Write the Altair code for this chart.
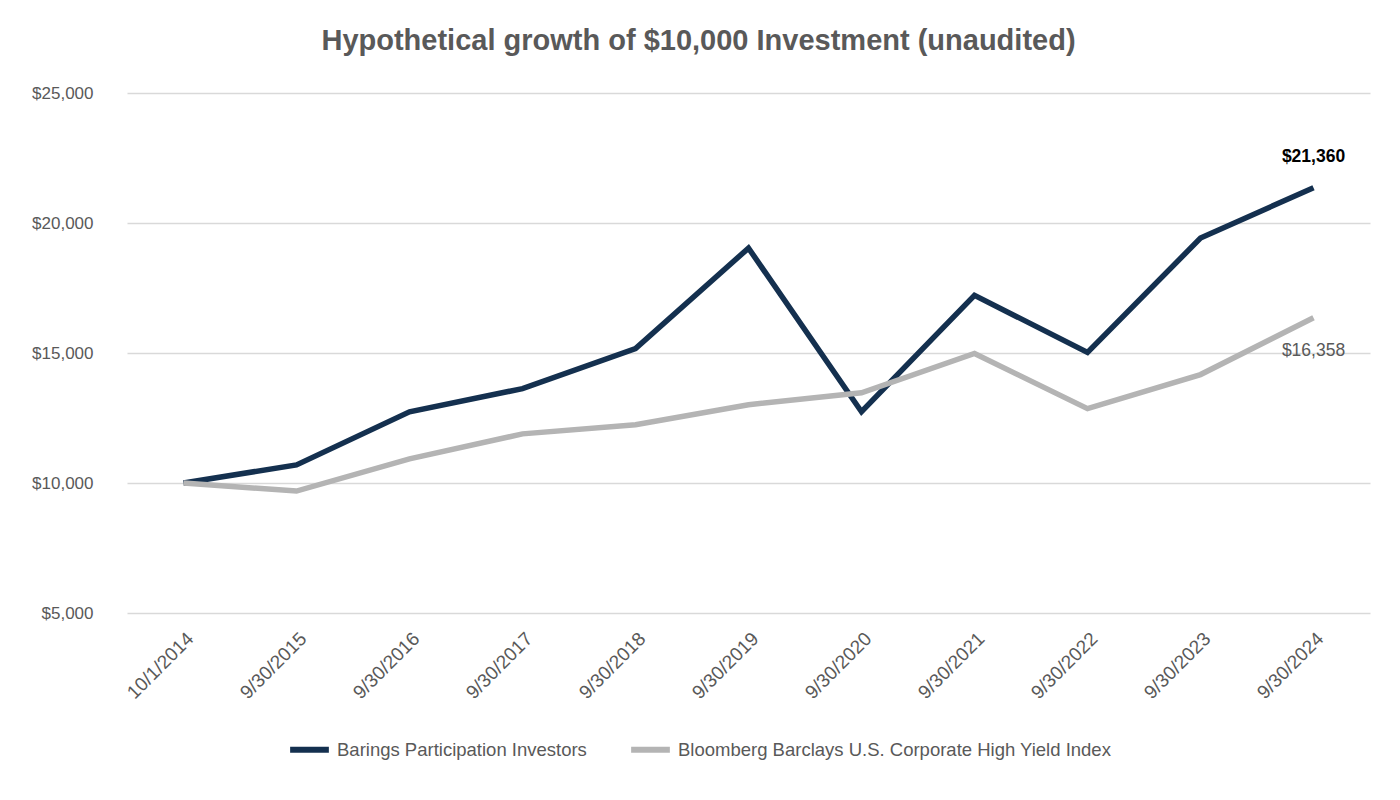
import altair as alt
import pandas as pd

dates = ["10/1/2014", "9/30/2015", "9/30/2016", "9/30/2017", "9/30/2018", "9/30/2019",
         "9/30/2020", "9/30/2021", "9/30/2022", "9/30/2023", "9/30/2024"]
series_names = ["Barings Participation Investors",
                "Bloomberg Barclays U.S. Corporate High Yield Index"]
barings = [10000, 10695, 12740, 13630, 15170, 19035, 12740, 17220, 15020, 19420, 21360]
bloomberg = [10000, 9690, 10930, 11890, 12240, 13010, 13470, 14980, 12860, 14170, 16358]
y_ticks = [5000, 10000, 15000, 20000, 25000]

rows = []
for d, a, b in zip(dates, barings, bloomberg):
    rows.append({"date": d, "series": series_names[0], "value": a})
    rows.append({"date": d, "series": series_names[1], "value": b})
df = pd.DataFrame(rows)

FONT = "Liberation Sans"
GREY_TXT = "#595959"
colors = ["#14304f", "#b4b4b4"]

x_enc = alt.X("date:N", sort=dates, title=None,
              scale=alt.Scale(type="point", padding=0.5),
              axis=alt.Axis(labelAngle=-45, labelFontSize=19, labelColor=GREY_TXT,
                            labelFont=FONT, ticks=False, domain=False, grid=False,
                            labelPadding=16))
y_enc = alt.Y("value:Q", title=None,
              scale=alt.Scale(domain=[5000, 25000], nice=False, zero=False),
              axis=alt.Axis(values=y_ticks, format="$,.0f", labelFontSize=17,
                            labelColor=GREY_TXT, labelFont=FONT, ticks=False,
                            domain=False, gridColor="#d9d9d9", gridWidth=1.5,
                            labelPadding=34))

base = alt.Chart(df)

lines = base.mark_line(strokeWidth=5.5, strokeJoin="miter").encode(
    x=x_enc, y=y_enc,
    color=alt.Color("series:N", sort=series_names, title=None,
                    scale=alt.Scale(domain=series_names, range=colors),
                    legend=alt.Legend(orient="none", legendX=160, legendY=634,
                                      direction="horizontal", symbolType="stroke",
                                      symbolSize=1500, symbolStrokeWidth=6,
                                      labelFontSize=18.5, labelColor=GREY_TXT,
                                      labelFont=FONT, labelLimit=700,
                                      columnPadding=32, labelOffset=5, padding=0)),
)

last = dates[-1]
lab1 = base.transform_filter(
    (alt.datum.date == last) & (alt.datum.series == series_names[0])
).mark_text(fontSize=17.5, fontWeight="bold", color="#000000", font=FONT, dy=-31).encode(
    x=alt.X("date:N", sort=dates), y="value:Q",
    text=alt.Text("value:Q", format="$,.0f"))

lab2 = base.transform_filter(
    (alt.datum.date == last) & (alt.datum.series == series_names[1])
).mark_text(fontSize=17.5, color=GREY_TXT, font=FONT, dy=33).encode(
    x=alt.X("date:N", sort=dates), y="value:Q",
    text=alt.Text("value:Q", format="$,.0f"))

chart = alt.layer(lines, lab1, lab2).properties(
    width=1243, height=520,
    title=alt.TitleParams("Hypothetical growth of $10,000 Investment (unaudited)",
                          fontSize=29, fontWeight="bold", color=GREY_TXT, font=FONT,
                          anchor="middle", dx=-50, offset=28),
    autosize=alt.AutoSizeParams(type="none"),
    padding={"left": 119, "top": 85, "right": 22, "bottom": 179},
    background="white",
).configure_view(stroke=None)

chart.save("out.html", embed_options={"renderer": "svg", "actions": False})
